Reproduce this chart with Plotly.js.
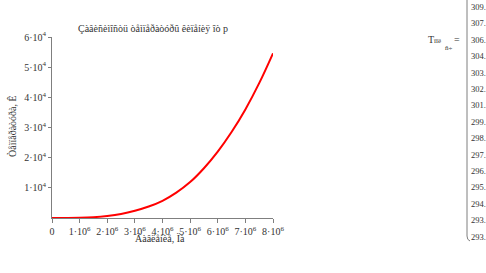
<!DOCTYPE html>
<html>
<head>
<meta charset="utf-8">
<script src="https://cdn.plot.ly/plotly-3.0.1.min.js"></script>
<style>html,body{margin:0;padding:0;background:#fff;}#chart{width:486px;height:273px;}</style>
</head>
<body>
<div id="chart"></div>
<script>
// Data
const pressure = [0, 0.5e6, 1e6, 1.5e6, 2e6, 2.5e6, 3e6, 3.5e6, 4e6, 4.5e6, 5e6, 5.5e6, 6e6, 6.5e6, 7e6, 7.5e6, 8e6];
const temperature = [0, 15, 70, 260, 680, 1350, 2400, 3800, 5700, 8400, 11900, 16500, 22000, 28500, 36000, 44700, 54600];
const xTickVals = [0, 1e6, 2e6, 3e6, 4e6, 5e6, 6e6, 7e6, 8e6];
const xTickText = ["0", "1·10<sup>6</sup>", "2·10<sup>6</sup>", "3·10<sup>6</sup>", "4·10<sup>6</sup>", "5·10<sup>6</sup>", "6·10<sup>6</sup>", "7·10<sup>6</sup>", "8·10<sup>6</sup>"];
const yTickVals = [1e4, 2e4, 3e4, 4e4, 5e4, 6e4];
const yTickText = ["1·10<sup>4</sup>", "2·10<sup>4</sup>", "3·10<sup>4</sup>", "4·10<sup>4</sup>", "5·10<sup>4</sup>", "6·10<sup>4</sup>"];
const tableValues = ["309.", "307.", "306.", "304.", "303.", "302.", "301.", "299.", "298.", "297.", "296.", "295.", "294.", "293.", "293."];

const titleText = "Çàâèñèìîñòü òåìïåðàòóðû êèïåíèÿ îò p";
const xTitle = "Äàâëåíèå, Ïà";
const yTitle = "Òåìïåðàòóðà, Ê";

// plot area geometry (pixels)
const L = 52, T = 37, W = 221, H = 181;
const px = x => (x - L) / W;
const py = y => (T + H - y) / H;

const serif = "Liberation Serif, Times New Roman, serif";
const txtColor = "#333333";
const axColor = "#7f7f7f";

const annotations = [
  {text: titleText, x: px(153), y: py(29), xref: "paper", yref: "paper", showarrow: false, xanchor: "center", yanchor: "middle", font: {family: serif, size: 10, color: txtColor}},
  {text: xTitle, x: px(160), y: py(238), xref: "paper", yref: "paper", showarrow: false, xanchor: "center", yanchor: "middle", font: {family: serif, size: 10, color: txtColor}},
  {text: yTitle, x: px(12), y: py(126), xref: "paper", yref: "paper", showarrow: false, xanchor: "center", yanchor: "middle", textangle: -90, font: {family: serif, size: 10, color: txtColor}},
  {text: "T<span style='font-size:7px'>ïîë</span>", x: px(426), y: py(40), xref: "paper", yref: "paper", showarrow: false, xanchor: "left", yanchor: "middle", font: {family: serif, size: 10, color: txtColor}},
  {text: "ñ÷", x: px(443), y: py(48), xref: "paper", yref: "paper", showarrow: false, xanchor: "left", yanchor: "middle", font: {family: serif, size: 7, color: txtColor}},
  {text: "=", x: px(457), y: py(40), xref: "paper", yref: "paper", showarrow: false, xanchor: "center", yanchor: "middle", font: {family: serif, size: 10, color: txtColor}}
];
tableValues.forEach((v, i) => {
  annotations.push({text: v, x: px(469), y: py(7 + i * 16.4), xref: "paper", yref: "paper", showarrow: false, xanchor: "left", yanchor: "middle", font: {family: serif, size: 8.5, color: txtColor}});
});

const shapes = [
  {type: "path", xref: "paper", yref: "paper",
   path: `M ${px(467)},${py(-2)} L ${px(467)},${py(236)} Q ${px(467)},${py(240)} ${px(470)},${py(241)}`,
   line: {color: axColor, width: 1}}
];

const trace = {
  x: pressure, y: temperature, type: "scatter", mode: "lines",
  line: {color: "#ff0000", width: 2, shape: "spline"}, cliponaxis: false, hoverinfo: "skip"
};

const layout = {
  width: 486, height: 273,
  margin: {l: L, r: 486 - L - W, t: T, b: 273 - T - H, pad: 0},
  paper_bgcolor: "#ffffff", plot_bgcolor: "#ffffff",
  showlegend: false,
  font: {family: serif, size: 10, color: txtColor},
  xaxis: {range: [0, 8e6], tickvals: xTickVals, ticktext: xTickText, showgrid: false, zeroline: false,
          showline: true, linecolor: axColor, linewidth: 1, ticks: "outside", ticklen: 4, tickcolor: axColor,
          tickangle: 0, tickfont: {family: serif, size: 10, color: txtColor}, fixedrange: true},
  yaxis: {range: [0, 6e4], tickvals: yTickVals, ticktext: yTickText, showgrid: false, zeroline: false,
          showline: true, linecolor: axColor, linewidth: 1, ticks: "outside", ticklen: 3, tickcolor: axColor,
          tickfont: {family: serif, size: 10, color: txtColor}, fixedrange: true},
  annotations: annotations,
  shapes: shapes
};

Plotly.newPlot("chart", [trace], layout, {staticPlot: true, displayModeBar: false});
</script>
</body>
</html>
